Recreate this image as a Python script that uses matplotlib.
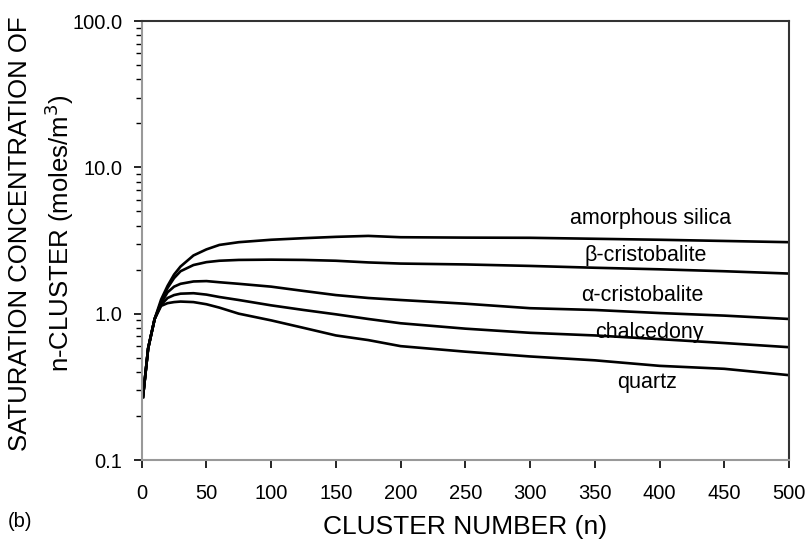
import matplotlib
matplotlib.use("Agg")
import matplotlib.pyplot as plt
from matplotlib.ticker import FixedLocator, LogLocator, NullFormatter

plt.rcParams['font.family'] = ['Liberation Sans', 'DejaVu Sans']

# cluster number n
n = [1, 5, 10, 15, 20, 25, 30, 40, 50, 60, 75, 100, 125, 150, 175, 200,
     250, 300, 350, 400, 450, 500]

# saturation concentration (moles/m3)
amorphous = [0.27, 0.58, 0.92, 1.25, 1.55, 1.85, 2.10, 2.50, 2.75, 2.95, 3.08,
             3.20, 3.28, 3.35, 3.40, 3.33, 3.31, 3.30, 3.25, 3.20, 3.14, 3.08]
beta_cris = [0.27, 0.58, 0.92, 1.20, 1.50, 1.75, 1.95, 2.15, 2.25, 2.30, 2.33,
             2.34, 2.33, 2.30, 2.24, 2.20, 2.17, 2.12, 2.06, 2.01, 1.95, 1.88]
alpha_cris = [0.27, 0.58, 0.92, 1.18, 1.40, 1.53, 1.60, 1.66, 1.67, 1.64, 1.60,
              1.53, 1.43, 1.34, 1.28, 1.24, 1.17, 1.09, 1.06, 1.01, 0.97, 0.92]
chalcedony = [0.27, 0.58, 0.92, 1.15, 1.28, 1.34, 1.37, 1.38, 1.35, 1.30, 1.24,
              1.14, 1.06, 0.99, 0.92, 0.86, 0.79, 0.74, 0.71, 0.67, 0.63, 0.59]
quartz = [0.27, 0.58, 0.92, 1.13, 1.18, 1.20, 1.21, 1.20, 1.16, 1.10, 1.00,
          0.90, 0.80, 0.71, 0.66, 0.60, 0.55, 0.51, 0.48, 0.44, 0.42, 0.38]

series = [amorphous, beta_cris, alpha_cris, chalcedony, quartz]
labels = ["amorphous silica", "\u03b2-cristobalite", "\u03b1-cristobalite",
          "chalcedony", "quartz"]
label_pos = [(393, 4.5), (389, 2.48), (387, 1.33), (392, 0.74), (390, 0.336)]

xticks = list(range(0, 501, 50))
yticks = [0.1, 1.0, 10.0, 100.0]

fig = plt.figure(figsize=(8.11, 5.46), dpi=100)
ax = fig.add_axes([0.1747, 0.1575, 0.7982, 0.804])

for y in series:
    ax.plot(n, y, color='black', lw=1.9, solid_joinstyle='round')

for lab, (lx, ly) in zip(labels, label_pos):
    ax.text(lx, ly, lab, fontsize=15.5, ha='center', va='center')

ax.set_yscale('log')
ax.set_xlim(0, 500)
ax.set_ylim(0.1, 100)
ax.xaxis.set_major_locator(FixedLocator(xticks))
ax.yaxis.set_major_locator(FixedLocator(yticks))
ax.yaxis.set_minor_locator(LogLocator(base=10, subs=range(2, 10)))
ax.yaxis.set_minor_formatter(NullFormatter())
ax.set_yticklabels(["%.1f" % v for v in yticks])
ax.set_xticklabels([str(v) for v in xticks])

ax.tick_params(axis='both', which='major', direction='out', length=6,
               width=1.2, labelsize=14.5, colors='black')
ax.tick_params(axis='x', pad=11)
ax.tick_params(axis='y', pad=8)
ax.tick_params(axis='y', which='minor', direction='out', length=4, width=1.0)

ax.spines['left'].set_color('#999999')
ax.spines['bottom'].set_color('#999999')
ax.spines['top'].set_color('#333333')
ax.spines['right'].set_color('#333333')
for s in ax.spines.values():
    s.set_linewidth(1.5)

fig.text(0.052, 0.572, "SATURATION CONCENTRATION OF\nn-CLUSTER (moles/m$^3$)",
         rotation=90, ha='center', va='center', fontsize=18.5, linespacing=1.4)
fig.text(0.573, 0.035, "CLUSTER NUMBER (n)", ha='center', va='center',
         fontsize=19)
fig.text(0.01, 0.044, "(b)", ha='left', va='center', fontsize=14.5)

fig.savefig("out.png", dpi=100)
